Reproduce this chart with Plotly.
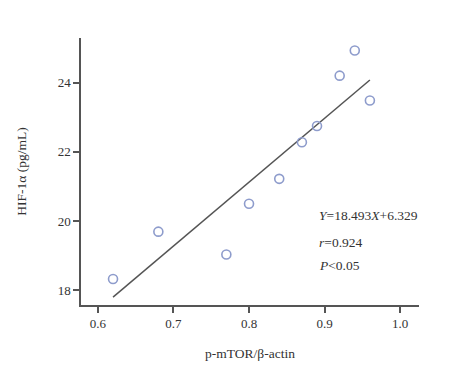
import plotly.graph_objects as go

x_vals = [0.62, 0.68, 0.77, 0.80, 0.84, 0.87, 0.89, 0.92, 0.94, 0.96]
y_vals = [18.32, 19.69, 19.03, 20.50, 21.22, 22.28, 22.75, 24.21, 24.94, 23.49]
slope = 18.493
intercept = 6.329
fit_x = [0.62, 0.96]
fit_y = [slope * v + intercept for v in fit_x]
x_ticks = [0.6, 0.7, 0.8, 0.9, 1.0]
x_tick_text = ["0.6", "0.7", "0.8", "0.9", "1.0"]
y_ticks = [18, 20, 22, 24]

FONT = "Liberation Serif, Times New Roman, serif"

fig = go.Figure()
fig.add_trace(go.Scatter(x=fit_x, y=fit_y, mode="lines",
                         line=dict(color="#555555", width=1.5), showlegend=False))
fig.add_trace(go.Scatter(x=x_vals, y=y_vals, mode="markers",
                         marker=dict(symbol="circle-open", size=9,
                                     line=dict(color="#8e9ccc", width=1.6),
                                     color="#8e9ccc"),
                         showlegend=False))

fig.update_layout(
    width=449, height=374,
    margin=dict(l=70, r=38, t=30, b=77),
    paper_bgcolor="white", plot_bgcolor="white",
    font=dict(family=FONT, size=13, color="#333333"),
    xaxis=dict(range=[0.5776, 1.025], tickvals=x_ticks, ticktext=x_tick_text,
               showgrid=False, zeroline=False, showline=True, linecolor="#555555",
               linewidth=1.5, ticks="outside", ticklen=6, tickwidth=1.5, tickcolor="#555555",
               tickfont=dict(family=FONT, size=13, color="#333333"),
               title=dict(text="p-mTOR/β-actin", standoff=18,
                          font=dict(family=FONT, size=13.5, color="#333333"))),
    yaxis=dict(range=[17.565, 25.3], tickvals=y_ticks,
               showgrid=False, zeroline=False, showline=True, linecolor="#555555",
               linewidth=1.5, ticks="outside", ticklen=6, tickwidth=1.5, tickcolor="#555555",
               tickfont=dict(family=FONT, size=13, color="#333333"),
               title=dict(text="HIF-1α (pg/mL)", standoff=28,
                          font=dict(family=FONT, size=13.5, color="#333333"))),
)

ann = [
    ("<i>Y</i>=18.493<i>X</i>+6.329", 215),
    ("<i>r</i>=0.924", 242),
    ("<i>P</i><0.05", 265),
]
for txt, ypix in ann:
    fig.add_annotation(text=txt, xref="paper", yref="paper",
                       x=(316 - 78) / 341, y=1 - (ypix - 38) / 267,
                       xanchor="left", yanchor="middle", showarrow=False,
                       font=dict(family=FONT, size=13.5, color="#333333"))

fig.write_html("out.html")
